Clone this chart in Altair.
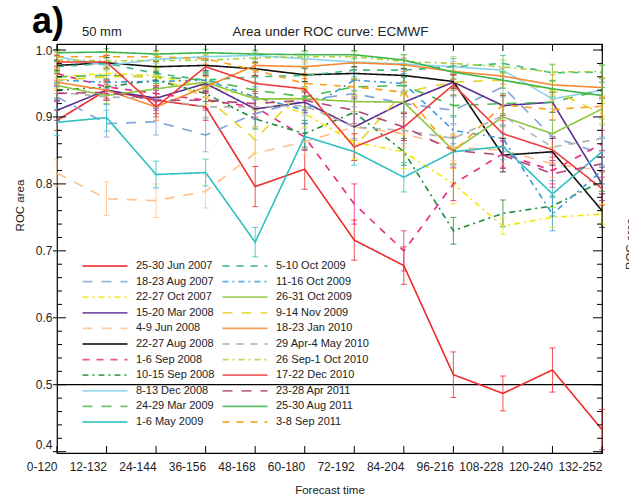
import altair as alt
import numpy as np
import pandas as pd

# Forecast-time windows (hours)
steps = ["0-120", "12-132", "24-144", "36-156", "48-168", "60-180",
         "72-192", "84-204", "96-216", "108-228", "120-240", "132-252"]

# Event names (legend order: first column, then second column)
events = [
    "25-30 Jun 2007", "18-23 Aug 2007", "22-27 Oct 2007", "15-20 Mar 2008",
    "4-9 Jun 2008", "22-27 Aug 2008", "1-6 Sep 2008", "10-15 Sep 2008",
    "8-13 Dec 2008", "24-29 Mar 2009", "1-6 May 2009",
    "5-10 Oct 2009", "11-16 Oct 2009", "26-31 Oct 2009", "9-14 Nov 2009",
    "18-23 Jan 2010", "29 Apr-4 May 2010", "26 Sep-1 Oct 2010", "17-22 Dec 2010",
    "23-28 Apr 2011", "25-30 Aug 2011", "3-8 Sep 2011",
]

# ROC area per event and its error half-width
jun2007 = [0.895, 0.940, 0.925, 0.915, 0.796, 0.822, 0.716, 0.678, 0.515, 0.487, 0.522, 0.433]
jun2007_err = [0.015, 0.012, 0.020, 0.020, 0.030, 0.030, 0.030, 0.028, 0.034, 0.026, 0.033, 0.030]
aug2007 = [0.930, 0.890, 0.893, 0.873, 0.905, 0.925, 0.935, 0.920, 0.910, 0.945, 0.870, 0.845]
aug2007_err = [0.020, 0.020, 0.020, 0.025, 0.020, 0.020, 0.020, 0.020, 0.020, 0.015, 0.025, 0.025]
oct2007 = [0.960, 0.965, 0.962, 0.945, 0.930, 0.905, 0.862, 0.848, 0.800, 0.737, 0.750, 0.755]
oct2007_err = [0.012, 0.012, 0.012, 0.015, 0.020, 0.020, 0.025, 0.025, 0.030, 0.012, 0.015, 0.015]
mar2008 = [0.910, 0.940, 0.928, 0.950, 0.912, 0.922, 0.885, 0.922, 0.952, 0.917, 0.922, 0.800]
mar2008_err = [0.015, 0.015, 0.015, 0.012, 0.015, 0.015, 0.020, 0.015, 0.012, 0.015, 0.015, 0.025]
jun2008 = [0.816, 0.778, 0.775, 0.789, 0.846, 0.863, 0.885, 0.875, 0.855, 0.850, 0.830, 0.820]
jun2008_err = [0.020, 0.025, 0.025, 0.025, 0.020, 0.020, 0.020, 0.020, 0.020, 0.020, 0.020, 0.020]
aug2008 = [0.977, 0.981, 0.975, 0.977, 0.972, 0.963, 0.965, 0.962, 0.953, 0.843, 0.848, 0.760]
aug2008_err = [0.008, 0.008, 0.008, 0.008, 0.010, 0.010, 0.010, 0.010, 0.010, 0.025, 0.020, 0.025]
sep2008a = [0.965, 0.945, 0.935, 0.925, 0.915, 0.870, 0.770, 0.700, 0.800, 0.845, 0.820, 0.860]
sep2008a_err = [0.010, 0.010, 0.012, 0.012, 0.015, 0.020, 0.030, 0.030, 0.025, 0.020, 0.020, 0.020]
sep2008b = [0.940, 0.945, 0.955, 0.935, 0.897, 0.875, 0.907, 0.848, 0.730, 0.756, 0.767, 0.804]
sep2008b_err = [0.012, 0.012, 0.012, 0.012, 0.015, 0.020, 0.020, 0.020, 0.020, 0.020, 0.015, 0.015]
dec2008 = [0.990, 0.977, 0.986, 0.990, 0.992, 0.987, 0.982, 0.979, 0.975, 0.970, 0.927, 0.940]
dec2008_err = [0.006, 0.008, 0.006, 0.006, 0.006, 0.008, 0.008, 0.008, 0.008, 0.010, 0.015, 0.012]
mar2009 = [0.960, 0.962, 0.960, 0.955, 0.940, 0.930, 0.945, 0.947, 0.917, 0.920, 0.922, 0.940]
mar2009_err = [0.010, 0.010, 0.010, 0.012, 0.012, 0.015, 0.012, 0.012, 0.015, 0.015, 0.015, 0.012]
may2009 = [0.892, 0.899, 0.814, 0.817, 0.713, 0.871, 0.848, 0.810, 0.848, 0.856, 0.785, 0.848]
may2009_err = [0.020, 0.020, 0.020, 0.020, 0.022, 0.020, 0.020, 0.022, 0.020, 0.020, 0.020, 0.020]
oct2009a = [0.975, 0.980, 0.965, 0.955, 0.960, 0.962, 0.970, 0.970, 0.975, 0.980, 0.966, 0.967]
oct2009a_err = [0.008, 0.008, 0.010, 0.010, 0.010, 0.010, 0.010, 0.010, 0.012, 0.012, 0.012, 0.010]
oct2009b = [0.955, 0.952, 0.953, 0.955, 0.930, 0.910, 0.955, 0.950, 0.880, 0.868, 0.755, 0.820]
oct2009b_err = [0.010, 0.010, 0.010, 0.012, 0.015, 0.020, 0.015, 0.015, 0.020, 0.020, 0.025, 0.020]
oct2009c = [0.947, 0.932, 0.942, 0.952, 0.927, 0.927, 0.923, 0.922, 0.850, 0.900, 0.875, 0.912]
oct2009c_err = [0.012, 0.012, 0.012, 0.012, 0.015, 0.015, 0.015, 0.015, 0.020, 0.015, 0.020, 0.015]
nov2009 = [0.955, 0.960, 0.960, 0.930, 0.866, 0.945, 0.855, 0.937, 0.952, 0.955, 0.940, 0.905]
nov2009_err = [0.012, 0.012, 0.012, 0.012, 0.020, 0.015, 0.020, 0.015, 0.012, 0.012, 0.012, 0.015]
jan2010 = [0.952, 0.940, 0.915, 0.945, 0.977, 0.975, 0.981, 0.978, 0.968, 0.961, 0.948, 0.944]
jan2010_err = [0.012, 0.015, 0.020, 0.015, 0.010, 0.010, 0.010, 0.010, 0.012, 0.012, 0.015, 0.015]
apr2010 = [0.937, 0.930, 0.927, 0.915, 0.915, 0.917, 0.885, 0.880, 0.868, 0.902, 0.855, 0.868]
apr2010_err = [0.012, 0.012, 0.012, 0.015, 0.015, 0.015, 0.020, 0.020, 0.020, 0.015, 0.020, 0.020]
sep2010 = [0.985, 0.984, 0.984, 0.985, 0.988, 0.990, 0.990, 0.983, 0.980, 0.975, 0.967, 0.968]
sep2010_err = [0.008, 0.008, 0.008, 0.008, 0.008, 0.008, 0.008, 0.010, 0.010, 0.010, 0.012, 0.010]
dec2010 = [0.982, 0.982, 0.915, 0.975, 0.950, 0.942, 0.855, 0.885, 0.948, 0.875, 0.851, 0.793]
dec2010_err = [0.010, 0.010, 0.015, 0.012, 0.012, 0.015, 0.020, 0.020, 0.015, 0.020, 0.020, 0.025]
apr2011 = [0.935, 0.937, 0.925, 0.925, 0.920, 0.925, 0.910, 0.885, 0.850, 0.843, 0.815, 0.830]
apr2011_err = [0.012, 0.012, 0.015, 0.015, 0.015, 0.015, 0.020, 0.020, 0.020, 0.020, 0.020, 0.020]
aug2011 = [0.996, 0.997, 0.994, 0.996, 0.994, 0.993, 0.993, 0.985, 0.967, 0.955, 0.942, 0.932]
aug2011_err = [0.005, 0.005, 0.005, 0.005, 0.006, 0.006, 0.006, 0.008, 0.010, 0.012, 0.012, 0.012]
sep2011 = [0.990, 0.990, 0.990, 0.987, 0.970, 0.950, 0.945, 0.937, 0.848, 0.918, 0.911, 0.916]
sep2011_err = [0.008, 0.008, 0.008, 0.008, 0.010, 0.012, 0.012, 0.015, 0.025, 0.015, 0.015, 0.015]

series = [
    (jun2007, jun2007_err), (aug2007, aug2007_err), (oct2007, oct2007_err),
    (mar2008, mar2008_err), (jun2008, jun2008_err), (aug2008, aug2008_err),
    (sep2008a, sep2008a_err), (sep2008b, sep2008b_err), (dec2008, dec2008_err),
    (mar2009, mar2009_err), (may2009, may2009_err), (oct2009a, oct2009a_err),
    (oct2009b, oct2009b_err), (oct2009c, oct2009c_err), (nov2009, nov2009_err),
    (jan2010, jan2010_err), (apr2010, apr2010_err), (sep2010, sep2010_err),
    (dec2010, dec2010_err), (apr2011, apr2011_err), (aug2011, aug2011_err),
    (sep2011, sep2011_err),
]

colors = [
    "#ee2a2a", "#83a2d8", "#f3e600", "#5a2d91", "#ffc08a", "#111111",
    "#e8287f", "#1e8c3c", "#86d3ea", "#46b94a", "#2fc0c0",
    "#3dbb7e", "#3d9ad9", "#8dc63f", "#e3d52a", "#f58a33", "#b0b0b0",
    "#a9d23c", "#f03c3c", "#b2437a", "#3cb54a", "#ff9e1a",
]
SOLID, LONG, DASH, DASHDOT = [1, 0], [10, 9], [7, 7], [6, 4, 2, 4]
dashes = [
    SOLID, LONG, DASHDOT, SOLID, LONG, SOLID, DASH, DASHDOT, SOLID, LONG, SOLID,
    DASH, DASHDOT, SOLID, LONG, SOLID, DASH, DASHDOT, SOLID, LONG, SOLID, DASH,
]

rows = []
for name, (vals, errs) in zip(events, series):
    for step, v, e in zip(steps, vals, errs):
        rows.append({"event": name, "step": step, "auc": v,
                     "lo": v - e, "hi": v + e})
df = pd.DataFrame(rows)

W, H = 545, 409
FONT = "Liberation Sans"
y_scale = alt.Scale(domain=[0.398, 1.009], nice=False, zero=False)
x_scale = alt.Scale(type="point", padding=0)

# two-column legend inside the plot (columns fill top to bottom)
legend = alt.Legend(
    orient="none", legendX=25, legendY=216, columns=2, title=None,
    symbolType="M-4.5,0H4.5", symbolSize=100, symbolStrokeWidth=1.8,
    symbolOffset=17, labelOffset=25, labelFontSize=11, labelFont=FONT,
    labelColor="#222222", rowPadding=4.6, columnPadding=3, labelLimit=200,
    padding=0,
)
color = alt.Color("event:N", scale=alt.Scale(domain=events, range=colors),
                  legend=legend)
dash = alt.StrokeDash("event:N", scale=alt.Scale(domain=events, range=dashes),
                      legend=legend)

x_enc = alt.X("step:O", sort=steps, scale=x_scale,
              axis=alt.Axis(title="Forecast time", labelAngle=0, ticks=False,
                            domain=False, grid=False, labelOverlap=False,
                            labelBound=False, labelFontSize=12, labelFont=FONT,
                            labelColor="#222222", labelPadding=13,
                            titleFontSize=11.5, titleFont=FONT,
                            titleFontWeight="normal", titleColor="#222222",
                            titlePadding=12))
y_enc = alt.Y("auc:Q", scale=y_scale,
              axis=alt.Axis(title="ROC area", values=[0.4, 0.5, 0.6, 0.7, 0.8, 0.9, 1.0],
                            format=".1f", ticks=False, domain=False, grid=False,
                            labelFontSize=12, labelFont=FONT, labelColor="#222222",
                            labelPadding=5, labelFlush=3, titleFontSize=11.5,
                            titleFont=FONT, titleFontWeight="normal",
                            titleColor="#222222", titleX=-32, titleY=161))

base = alt.Chart(df)

lines = base.mark_line(strokeWidth=1.6).encode(
    x=x_enc, y=y_enc, color=color, strokeDash=dash)

bars = base.mark_rule(strokeWidth=1, opacity=0.8).encode(
    x=alt.X("step:O", sort=steps, scale=x_scale),
    y=alt.Y("lo:Q", scale=y_scale), y2="hi:Q", color=color)
cap_lo = base.mark_tick(orient="horizontal", size=6, thickness=1, opacity=0.8).encode(
    x=alt.X("step:O", sort=steps, scale=x_scale),
    y=alt.Y("lo:Q", scale=y_scale), color=color)
cap_hi = base.mark_tick(orient="horizontal", size=6, thickness=1, opacity=0.8).encode(
    x=alt.X("step:O", sort=steps, scale=x_scale),
    y=alt.Y("hi:Q", scale=y_scale), color=color)

# chance-skill reference line
ref = alt.Chart(pd.DataFrame({"v": [0.5]})).mark_rule(color="black", strokeWidth=1.2).encode(
    y=alt.Y("v:Q", scale=y_scale))

# inward axis ticks on all four sides
yt = np.round(np.arange(0.40, 1.0001, 0.02), 2)
ticks_y = pd.DataFrame({"t": yt, "major": [abs(v * 10 - round(v * 10)) < 1e-6 for v in yt]})
tick_rule = dict(color="black", strokeWidth=1)
left_minor = alt.Chart(ticks_y[~ticks_y.major]).mark_rule(**tick_rule).encode(
    y=alt.Y("t:Q", scale=y_scale), x=alt.value(0), x2=alt.value(5))
left_major = alt.Chart(ticks_y[ticks_y.major]).mark_rule(**tick_rule).encode(
    y=alt.Y("t:Q", scale=y_scale), x=alt.value(-4), x2=alt.value(9))
right_minor = alt.Chart(ticks_y[~ticks_y.major]).mark_rule(**tick_rule).encode(
    y=alt.Y("t:Q", scale=y_scale), x=alt.value(W - 5), x2=alt.value(W))
right_major = alt.Chart(ticks_y[ticks_y.major]).mark_rule(**tick_rule).encode(
    y=alt.Y("t:Q", scale=y_scale), x=alt.value(W - 9), x2=alt.value(W))
ticks_x = pd.DataFrame({"step": steps})
top_ticks = alt.Chart(ticks_x).mark_rule(**tick_rule).encode(
    x=alt.X("step:O", sort=steps, scale=x_scale), y=alt.value(0), y2=alt.value(7))
bottom_ticks = alt.Chart(ticks_x).mark_rule(**tick_rule).encode(
    x=alt.X("step:O", sort=steps, scale=x_scale), y=alt.value(H - 7), y2=alt.value(H))

# header texts
def label(text, **kw):
    return alt.Chart(pd.DataFrame({"t": [text]})).mark_text(**kw).encode(text="t:N")

panel = label("a)", font=FONT, fontSize=36, fontWeight="bold", align="left",
              baseline="alphabetic", color="black").encode(x=alt.value(-25), y=alt.value(-11))
depth = label("50 mm", font=FONT, fontSize=13, align="left", baseline="alphabetic",
              color="#222222").encode(x=alt.value(25), y=alt.value(-8))
title = label("Area under ROC curve: ECMWF", font=FONT, fontSize=13.5, align="center",
              baseline="alphabetic", color="#222222").encode(x=alt.value(W / 2 + 1), y=alt.value(-8))
# y-axis title of the neighbouring panel, running off the right edge
side = label("ROC area", font=FONT, fontSize=11.5, angle=270, align="center",
             baseline="top", color="#222222").encode(x=alt.value(W + 23), y=alt.value(200))

chart = alt.layer(
    ref, bars, cap_lo, cap_hi, lines,
    left_minor, left_major, right_minor, right_major, top_ticks, bottom_ticks,
    panel, depth, title, side,
).properties(
    width=W, height=H,
    autosize=alt.AutoSizeParams(type="none"),
    padding={"left": 57, "top": 44, "right": 27, "bottom": 50},
    background="white",
).configure_view(stroke="black", strokeWidth=1.2)

chart.save("out.html", embed_options={"renderer": "svg", "actions": False})
